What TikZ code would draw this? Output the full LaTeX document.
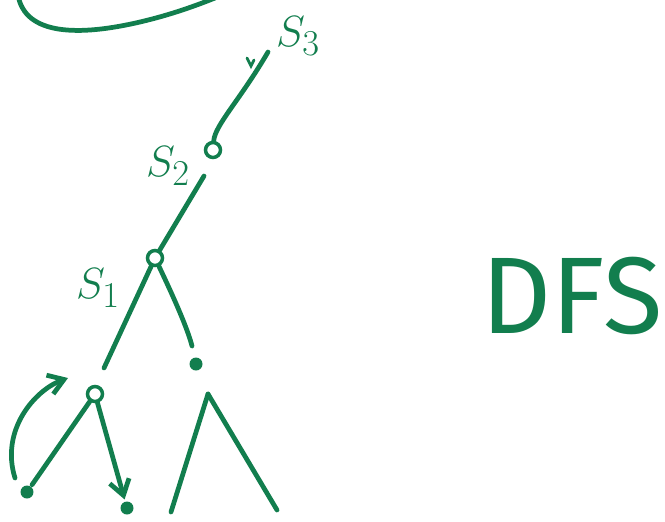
\documentclass[tikz,border=0pt]{standalone}
\usepackage{fontspec}
\setsansfont{Fira Sans}
\usetikzlibrary{arrows.meta,positioning}
\definecolor{ink}{RGB}{18,126,78}

\begin{document}
\begin{tikzpicture}[
  x=0.02cm, y=-0.02cm,
  color=ink, line width=2.7pt, line cap=round,
  ring/.style={draw, circle, line width=2pt, minimum size=3mm, inner sep=0pt},
  blob/.style={fill, circle, minimum size=2.6mm, inner sep=0pt},
  arrow/.style={-{Straight Barb[length=3mm, width=4mm]}},
  lbl/.style={font=\Huge, inner sep=0pt}
]
\useasboundingbox (0,0) rectangle (665,521);
\clip (0,0) rectangle (665,521);

% loop left over at the top
\draw (18,-5) .. controls (25,36) and (80,36) .. (140,22)
      .. controls (170,15) and (195,6) .. (215,-2);

% vertices
\coordinate (top) at (268,52);
\node[ring] (v2) at (213,150) {};
\coordinate (v2low) at (204,176);
\node[ring] (v1) at (155,258) {};
\coordinate (atop) at (104,368);
\coordinate (bend) at (192,346);
\node[blob] (b) at (196,364) {};
\node[ring] (a) at (95,394) {};
\node[blob] (ll) at (27,492) {};
\node[blob] (lr) at (127,508) {};
\coordinate (apex) at (208,394);
\coordinate (rl) at (171,512);
\coordinate (rr) at (277,510);

% labels
\node[lbl] (s3) at (298,36) {$S_3$};
\node[lbl] (s2) at (168,166) {$S_2$};
\node[lbl] (s1) at (98,288) {$S_1$};
\node[font=\fontsize{62}{62}\sffamily\selectfont, inner sep=0pt] (dfs) at (572,296) {DFS};

% tick mark
\draw[line width=1.6pt] (247,58) -- (251,66) -- (254,60);

% edges
\draw (top) .. controls (240,100) and (215,125) .. (v2);
\draw (v2low) -- (v1);
\draw (v1) -- (atop);
\draw (v1) .. controls (175,300) and (188,330) .. (bend);
\draw (a) -- (ll);
\draw[arrow] (a) -- (lr);
\draw (apex) -- (rl);
\draw (apex) -- (rr);

% backtrack arrow
\draw[arrow] (15,478) .. controls (0,430) and (35,390) .. (68,378);
\end{tikzpicture}
\end{document}
